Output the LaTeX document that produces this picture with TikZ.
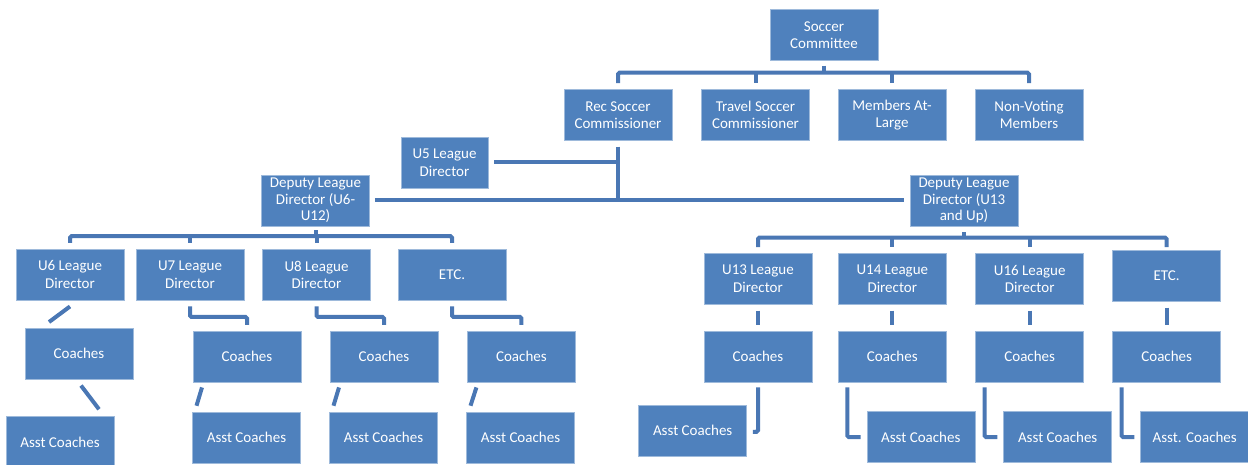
\documentclass[tikz,border=0pt]{standalone}
\usepackage{fontspec}
\setmainfont{Carlito}
\usepackage{tikz}
\definecolor{boxblue}{HTML}{4F81BD}
\definecolor{lineblue}{HTML}{4A77B4}

\begin{document}
\begin{tikzpicture}[x=1pt, y=1pt,
  box/.style={rectangle, fill=boxblue, draw=boxblue!55!white, line width=0.5pt, text=white, align=center,
    minimum width=108pt, minimum height=51pt, inner sep=0pt, font=\fontsize{15}{17.5}\selectfont},
  tall/.style={font=\fontsize{15}{16.5}\selectfont},
  conn/.style={draw=lineblue, line width=4pt, rounded corners=1.5pt}]
  \useasboundingbox (0,0) rectangle (1248,464);
  \clip (0,0) rectangle (1248,464);

  \node[box] (sc) at (824,429) {Soccer\\Committee};
  \node[box] (rec) at (618,349) {Rec Soccer\\Commissioner};
  \node[box] (travel) at (755.5,349) {Travel Soccer\\Commissioner};
  \node[box] (members) at (892,349) {Members At-\\Large};
  \node[box] (nonvoting) at (1029,349) {Non-Voting\\Members};
  \node[box, minimum width=87pt] (u5) at (444.5,301.5) {U5 League\\Director};
  \node[box, tall] (dldA) at (315.5,263.5) {Deputy League\\Director (U6-\\U12)};
  \node[box, tall] (dldB) at (964,263.5) {Deputy League\\Director (U13\\and Up)};

  \node[box] (u6) at (70,189.3) {U6 League\\Director};
  \node[box] (u7) at (190,189.3) {U7 League\\Director};
  \node[box] (u8) at (316.5,189.3) {U8 League\\Director};
  \node[box] (etcA) at (452,189.3) {ETC.};
  \node[box] (chA1) at (79,110.2) {Coaches};
  \node[box] (chA2) at (247,107.3) {Coaches};
  \node[box] (chA3) at (384,107.3) {Coaches};
  \node[box] (chA4) at (521.4,107.3) {Coaches};
  \node[box] (asA1) at (60,22) {Asst Coaches};
  \node[box] (asA2) at (246.5,26.5) {Asst Coaches};
  \node[box] (asA3) at (383.5,26.5) {Asst Coaches};
  \node[box] (asA4) at (520.5,26.5) {Asst Coaches};

  \node[box] (u13) at (758,185.2) {U13 League\\Director};
  \node[box] (u14) at (892.3,185.2) {U14 League\\Director};
  \node[box] (u16) at (1029.7,185.2) {U16 League\\Director};
  \node[box] (etcB) at (1166.7,188.2) {ETC.};
  \node[box] (chB1) at (758,107.5) {Coaches};
  \node[box] (chB2) at (892.3,107.5) {Coaches};
  \node[box] (chB3) at (1029.7,107.5) {Coaches};
  \node[box] (chB4) at (1166.7,107.5) {Coaches};
  \node[box] (asB1) at (692.7,33.7) {Asst Coaches};
  \node[box] (asB2) at (920.8,26.8) {Asst Coaches};
  \node[box] (asB3) at (1057.7,26.8) {Asst Coaches};
  \node[box] (asB4) at (1194.7,26.8) {Asst. Coaches};

  \coordinate (scbus) at ([yshift=-12pt]sc.south);
  \draw[conn] ([yshift=-5pt]sc.south) -- (scbus);
  \draw[conn] ([yshift=6pt]rec.north) |- (scbus) -| ([yshift=6pt]nonvoting.north);
  \foreach \n in {travel,members}
    \draw[conn] (scbus -| \n) -- ([yshift=6pt]\n.north);

  \draw[conn] ([yshift=-6pt]rec.south) -- (rec |- dldA);
  \draw[conn] ([xshift=6pt]u5.east) -- (u5 -| rec);
  \draw[conn] ([xshift=5pt]dldA.east) -- ([xshift=-6pt]dldB.west);

  \coordinate (busA) at ([yshift=-10pt]dldA.south);
  \draw[conn] ([yshift=-4pt]dldA.south) -- (busA);
  \draw[conn] ([yshift=6pt]u6.north) |- (busA) -| ([yshift=6pt]etcA.north);
  \foreach \n in {u7,u8}
    \draw[conn] (busA -| \n) -- ([yshift=6pt]\n.north);

  \coordinate (busB) at ([yshift=-11.3pt]dldB.south);
  \draw[conn] ([yshift=-6pt]dldB.south) -- (busB);
  \draw[conn] ([yshift=6pt]u13.north) |- (busB) -| ([yshift=3pt]etcB.north);
  \foreach \n in {u14,u16}
    \draw[conn] (busB -| \n) -- ([yshift=6pt]\n.north);

  \draw[conn] ([yshift=-6pt]u6.south) -- ([xshift=-30pt,yshift=6pt]chA1.north);
  \draw[conn] ([xshift=2pt,yshift=-6pt]chA1.south) -- ([xshift=39pt,yshift=7pt]asA1.north);
  \foreach \a/\b in {u7/chA2,u8/chA3,etcA/chA4}
    \draw[conn] ([yshift=-6pt]\a.south) -- ++(0,-10.5) -| ([yshift=6pt]\b.north);
  \foreach \a/\b in {chA2/asA2,chA3/asA3,chA4/asA4}
    \draw[conn] ([xshift=-45pt,yshift=-5pt]\a.south) -- ([xshift=-50pt,yshift=6pt]\b.north);

  \foreach \a/\b in {u13/chB1,u14/chB2,u16/chB3,etcB/chB4}
    \draw[conn] ([yshift=-6pt]\a.south) -- ([yshift=6pt]\b.north);
  \draw[conn] ([yshift=-5pt]chB1.south) |- ([xshift=6pt,yshift=-1.5pt]asB1.east);
  \foreach \a/\b in {chB2/asB2,chB3/asB3,chB4/asB4}
    \draw[conn] ([xshift=-45pt,yshift=-5pt]\a.south) |- ([xshift=-6pt]\b.west);
\end{tikzpicture}
\end{document}
